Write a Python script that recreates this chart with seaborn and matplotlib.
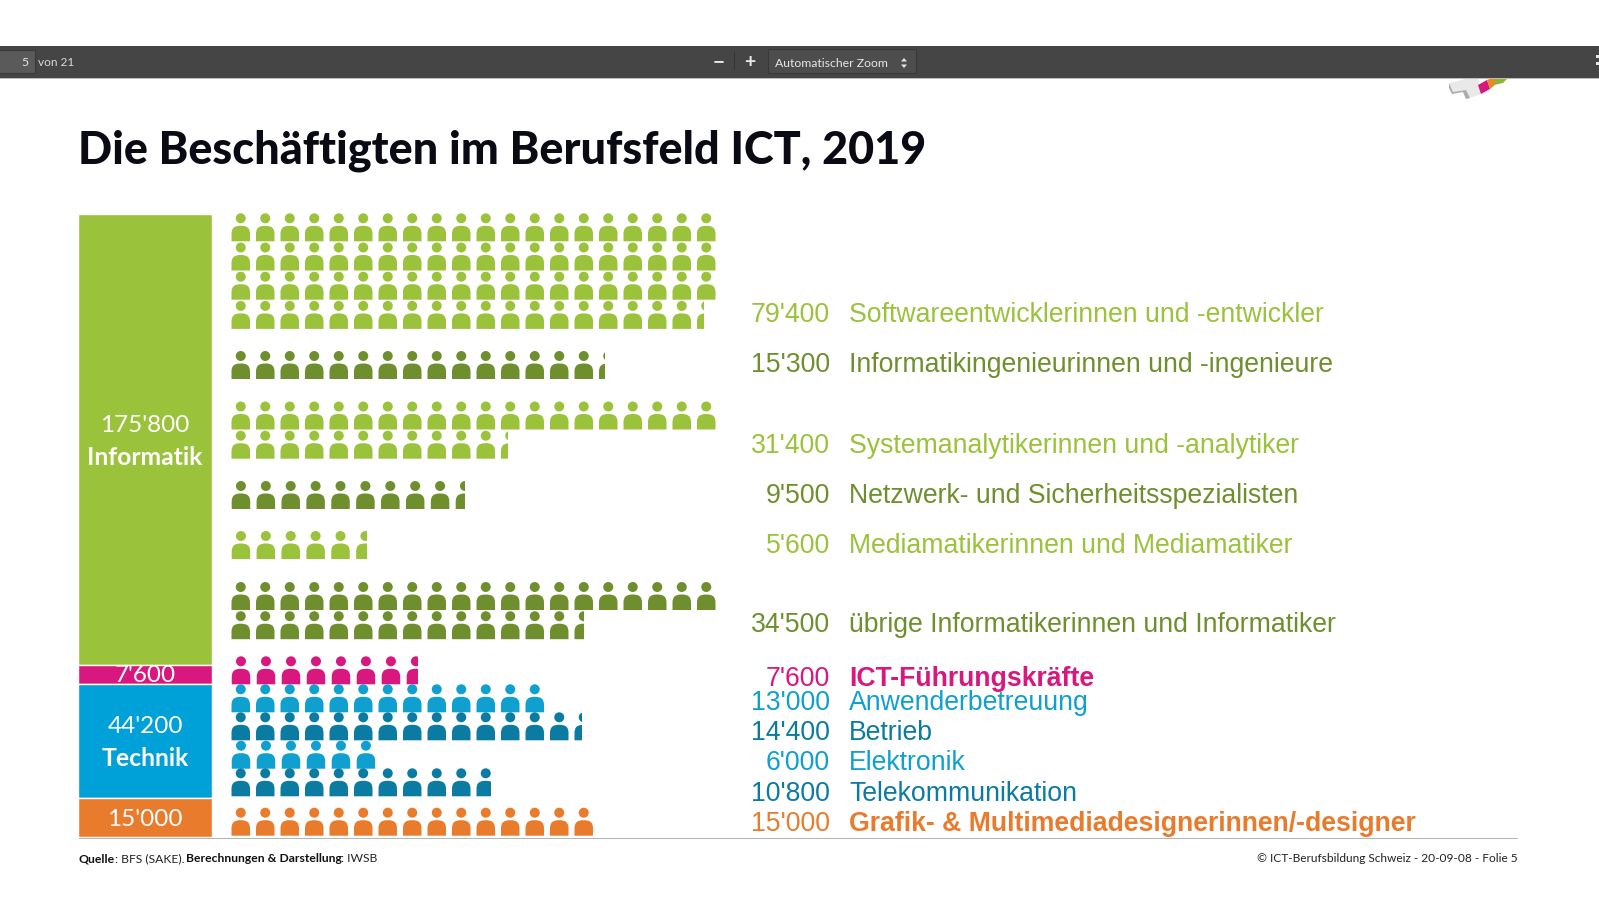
import numpy as np
import pandas as pd
import matplotlib
matplotlib.use("Agg")
import matplotlib.pyplot as plt
import seaborn as sns
from matplotlib.path import Path
from matplotlib.patches import Rectangle, Polygon

# values in thousands, one figure = 1000 people
job_names = ["Softwareentwicklerinnen und -entwickler", "Informatikingenieurinnen und -ingenieure",
             "Systemanalytikerinnen und -analytiker", "Netzwerk- und Sicherheitsspezialisten",
             "Mediamatikerinnen und Mediamatiker", "übrige Informatikerinnen und Informatiker",
             "ICT-Führungskräfte", "Anwenderbetreuung", "Betrieb", "Elektronik",
             "Telekommunikation", "Grafik- & Multimediadesignerinnen/-designer"]
job_values = [79.4, 15.3, 31.4, 9.5, 5.6, 34.5, 7.6, 13.0, 14.4, 6.0, 10.8, 15.0]
job_labels = ["79'400", "15'300", "31'400", "9'500", "5'600", "34'500",
              "7'600", "13'000", "14'400", "6'000", "10'800", "15'000"]

group_values = [175.8, 7.6, 44.2, 15.0]
group_labels = ["175'800", "7'600", "44'200", "15'000"]
group_names = ["Informatik", "", "Technik", ""]

# layout and style
GREEN, DGREEN, PINK, BLUE, DBLUE, ORANGE = "#9BC23B", "#6F8F2E", "#D8177F", "#0FA0CF", "#0B7BA2", "#E97B2D"
job_colors = [GREEN, DGREEN, GREEN, DGREEN, GREEN, DGREEN, PINK, BLUE, DBLUE, BLUE, DBLUE, ORANGE]
group_colors = [GREEN, PINK, "#00A0D8", ORANGE]
row_bottoms = [241.3, 379, 429.5, 509, 559, 610, 684.3, 712.3, 740.3, 768.7, 796.3, 835.7]
row_stretch = [1, 1, 1, 1.016, 1.016, 1, 1.02, 1, 1, 1.02, 1, 1]
text_y = [315, 365, 446, 496, 546, 625, 679, 702.5, 733, 763, 794, 824]
group_text_y = [(425.5, 457.5), (676, None), (726.5, 758), (819.5, None)]
W, H, DPI = 1599, 899, 100
PITCH_X, PITCH_Y, PER_ROW = 24.5, 29.2, 20
FIG_W, FIG_H = 18.5, 28.0


def add_axes_px(fig, left, top, right, bottom):
    ax = fig.add_axes([left / W, 1 - bottom / H, (right - left) / W, (bottom - top) / H])
    ax.set_axis_off()
    return ax


def person_path():
    head = Path.circle((0, 9.0), 5.0)
    w, b, s, t = 9.25, -14, -7.0, 1.5
    k = 0.72
    body_verts = [(-w, b), (-w, s), (-w, s + (t - s) * k), (-w * k, t), (0, t),
                  (w * k, t), (w, s + (t - s) * k), (w, s), (w, b), (-w, b)]
    body_codes = [Path.MOVETO, Path.LINETO, Path.CURVE4, Path.CURVE4, Path.CURVE4,
                  Path.CURVE4, Path.CURVE4, Path.CURVE4, Path.LINETO, Path.CLOSEPOLY]
    return Path.make_compound_path(head, Path(body_verts, body_codes))


def person_rows(value):
    # split a value into rows of 20 figures, last one may be partial
    rows = []
    left = value
    while left > 1e-9:
        rows.append(min(left, PER_ROW))
        left -= PER_ROW
    return rows


sns.set_theme(style="white")
plt.rcParams["font.family"] = ["Lato", "DejaVu Sans"]

fig = plt.figure(figsize=(W / DPI, H / DPI), dpi=DPI, facecolor="white")

# stacked bar on the left, one scale for all segments
ax_bar = add_axes_px(fig, 78, 213.5, 211.5, 836.5)
start = 0
for val, col in zip(group_values, group_colors):
    sns.barplot(x=[0], y=[val], bottom=start, width=1, color=col, saturation=1,
                edgecolor="white", linewidth=1.0, ax=ax_bar, native_scale=True)
    start += val
ax_bar.set_xlim(-0.5, 0.5)
ax_bar.set_ylim(sum(group_values), 0)
ax_bar.set_axis_off()

# pictogram rows
ax_pic = add_axes_px(fig, 228.5, 200, 728.5, 850)
person = person_path()
marker_s = (FIG_H * 72 / DPI) ** 2
w_frac = FIG_W / PITCH_X
for val, col, bottom, stretch in zip(job_values, job_colors, row_bottoms, row_stretch):
    for i, n in enumerate(person_rows(val)):
        count = int(np.ceil(n - 1e-9))
        y_row = bottom + i * PITCH_Y - FIG_H / 2
        df = pd.DataFrame({"x": (np.arange(count) + 0.5) * stretch, "y": y_row})
        before = len(ax_pic.collections)
        sns.scatterplot(data=df, x="x", y="y", marker=person, s=marker_s, color=col,
                        linewidth=0, edgecolor="none", ax=ax_pic, legend=False)
        frac = n - np.floor(n + 1e-9)
        if frac > 1e-6:
            x_cut = (count - 0.5) * stretch - w_frac / 2 + frac * w_frac
            clip = Rectangle((0, 200), x_cut, 650, transform=ax_pic.transData)
            ax_pic.collections[before].set_clip_path(clip)
ax_pic.set_xlim(0, 500 / PITCH_X)
ax_pic.set_ylim(850, 200)
ax_pic.set_axis_off()

# everything else in pixel coordinates
ax = add_axes_px(fig, 0, 0, W, H)
ax.set_xlim(0, W)
ax.set_ylim(H, 0)
ax.patch.set_alpha(0)

# logo peeking out below the toolbar
ax.add_patch(Polygon([(1449, 83), (1478, 76), (1481, 94), (1470, 98), (1465, 90), (1453, 92)], fc="#E9E9E9", ec="none"))
ax.add_patch(Polygon([(1449, 83), (1453, 92), (1466, 90), (1470, 98), (1466, 99), (1463, 92), (1452, 94), (1449, 88)], fc="#ABABAB", ec="none"))
ax.add_patch(Polygon([(1478, 85), (1487, 80), (1490, 89), (1481, 94)], fc=PINK, ec="none"))
ax.add_patch(Polygon([(1487, 80), (1497, 76), (1503, 78), (1490, 89)], fc="#E98A23", ec="none"))
ax.add_patch(Polygon([(1497, 76), (1510, 76), (1503, 83), (1494, 85)], fc="#8DB72E", ec="none"))

# pdf viewer toolbar
ax.add_patch(Rectangle((0, 46), W, 32, fc="#454545", ec="none"))
ax.add_patch(Rectangle((0, 78), W, 1, fc="#BDBDBD", ec="none"))
ax.add_patch(Rectangle((-2, 50), 37, 23, fc="#5A5A5A", ec="#393939", lw=0.8))
ax.add_patch(Rectangle((768, 49), 148, 24, fc="#4D4D4D", ec="#393939", lw=0.8))
ax.add_patch(Rectangle((734, 52), 1, 18, fc="#333333", ec="none"))
ax.add_patch(Rectangle((1596, 55), 3, 3, fc="#E6E6E6", ec="none"))
ax.add_patch(Rectangle((1596, 62), 3, 3, fc="#E6E6E6", ec="none"))
ax.text(28, 63, "5", color="#E6E6E6", fontsize=8.8, ha="right", va="center")
ax.text(38, 62.5, "von 21", color="#D9D9D9", fontsize=8.6, ha="left", va="center")
ax.text(719, 62, "−", color="#E8E8E8", fontsize=15, ha="center", va="center", weight="bold")
ax.text(750, 62.5, "+", color="#E8E8E8", fontsize=14, ha="center", va="center", weight="bold")
ax.text(775, 63.5, "Automatischer Zoom", color="#E6E6E6", fontsize=8.8, ha="left", va="center")
ax.add_patch(Polygon([(901, 61.5), (907, 61.5), (904, 58)], fc="#E6E6E6", ec="none"))
ax.add_patch(Polygon([(901, 64.5), (907, 64.5), (904, 68)], fc="#E6E6E6", ec="none"))

ax.text(78.5, 151, "Die Beschäftigten im Berufsfeld ICT, 2019", color="#0A0A14", fontsize=32.4,
        weight="black", ha="left", va="center")

# right hand labels
for name, lab, col, y, val in zip(job_names, job_labels, job_colors, text_y, job_values):
    is_bold = name.startswith(("ICT-", "Grafik"))
    ax.text(830, y, lab, color=col, fontsize=19.15, family="Liberation Sans", ha="right", va="center")
    ax.text(849, y, name, color=col, fontsize=19.15, family="Liberation Sans", ha="left", va="center",
            weight="bold" if is_bold else "normal")

# labels inside the stacked bar
for lab, name, (y1, y2) in zip(group_labels, group_names, group_text_y):
    ax.text(145, y1, lab, color="white", fontsize=17.5, ha="center", va="center")
    if name:
        ax.text(145, y2, name, color="white", fontsize=17.8, weight="bold", ha="center", va="center")

# footer
ax.add_patch(Rectangle((79, 837.5), 1439, 1.4, fc="#B4B4B4", ec="none"))
t1 = ax.text(78.5, 859, "Quelle", color="#111111", fontsize=8.8, weight="bold", ha="left", va="center")
ax.annotate(": BFS (SAKE).", xycoords=t1, xy=(1, 0), va="bottom", color="#222222", fontsize=8.7)
t2 = ax.text(185.5, 859, "Berechnungen & Darstellung", color="#111111", fontsize=8.7, weight="bold", ha="left", va="center")
ax.annotate(": IWSB", xycoords=t2, xy=(1, 0), va="bottom", color="#222222", fontsize=8.7)
ax.text(1518, 859, "© ICT-Berufsbildung Schweiz - 20-09-08 - Folie 5", color="#222222", fontsize=8.6,
        ha="right", va="center")

fig.savefig("out.png", dpi=DPI, facecolor="white")
